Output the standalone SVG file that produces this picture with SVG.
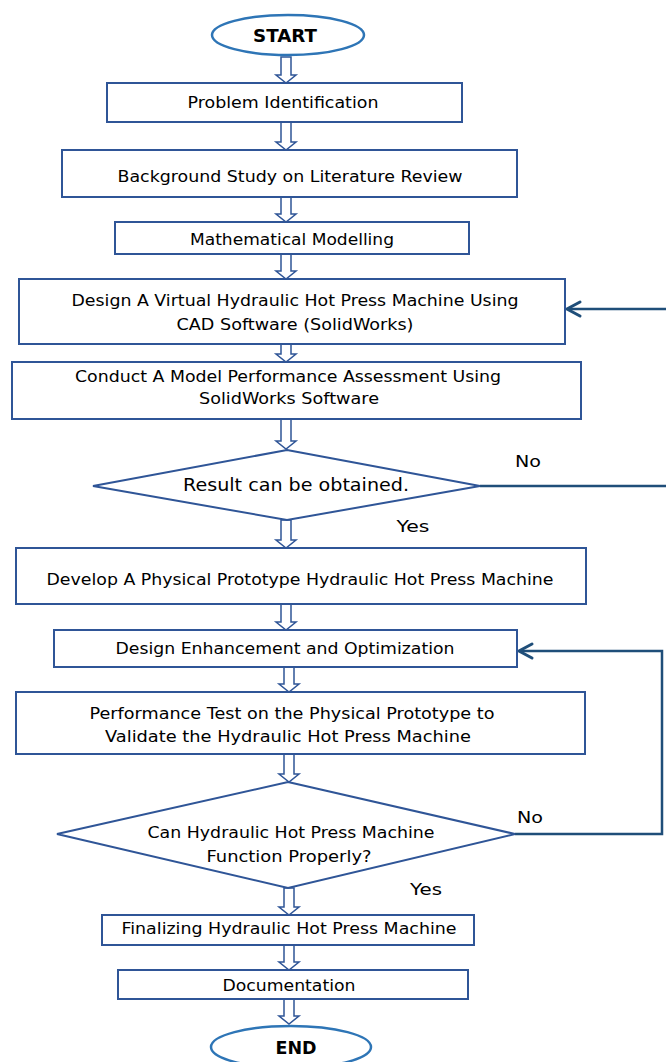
<svg xmlns="http://www.w3.org/2000/svg" width="666" height="1062" viewBox="0 0 666 1062">
<style>
.box{fill:#fff;stroke:#2F5597;stroke-width:2}
.oval{fill:#fff;stroke:#2E75B6;stroke-width:2.5}
.t{font-family:"DejaVu Sans",Verdana,sans-serif;font-size:15.5px;fill:#000;text-anchor:middle}
.tb{font-family:"DejaVu Sans",Verdana,sans-serif;font-size:17px;font-weight:bold;fill:#000;text-anchor:middle}
.blk{fill:#fff;stroke:#2F5597;stroke-width:1.5}
.line{fill:none;stroke:#1F4E79;stroke-width:2.5}
.head{fill:none;stroke:#1F4E79;stroke-width:3;stroke-linecap:round;stroke-linejoin:miter}
</style>
<g id="connectors">
<path class="blk" d="M281,57 V75 H276 L286,83 L296,75 H291 V57 Z"/>
<path class="blk" d="M281,122 V142 H276 L286,150 L296,142 H291 V122 Z"/>
<path class="blk" d="M281,197 V214 H276 L286,222 L296,214 H291 V197 Z"/>
<path class="blk" d="M281,254 V271 H276 L286,279 L296,271 H291 V254 Z"/>
<path class="blk" d="M281,344 V354 H276 L286,362 L296,354 H291 V344 Z"/>
<path class="blk" d="M281,419 V441 H276 L286,449 L296,441 H291 V419 Z"/>
<path class="blk" d="M281,520 V540 H276 L286,548 L296,540 H291 V520 Z"/>
<path class="blk" d="M281,604 V622 H276 L286,630 L296,622 H291 V604 Z"/>
<path class="blk" d="M284,667 V684 H279 L289,692 L299,684 H294 V667 Z"/>
<path class="blk" d="M284,754 V774 H279 L289,782 L299,774 H294 V754 Z"/>
<path class="blk" d="M284,888 V907 H279 L289,915 L299,907 H294 V888 Z"/>
<path class="blk" d="M284,945 V962 H279 L289,970 L299,962 H294 V945 Z"/>
<path class="blk" d="M284,999 V1016 H279 L289,1024 L299,1016 H294 V999 Z"/>
<path class="line" d="M666,309 H568"/>
<path class="head" d="M580,302 L567,309 L580,316"/>
<path class="line" d="M480,486 H666"/>
<path class="line" d="M515,834 H662 V651 H520"/>
<path class="head" d="M532,644 L519,651 L532,658"/>
</g>
<g id="start"><ellipse class="oval" cx="288" cy="35" rx="76" ry="20"/><text class="tb" x="285" y="42" textLength="64" lengthAdjust="spacingAndGlyphs">START</text></g>
<g id="n1"><rect class="box" x="107" y="83" width="355" height="39"/><text class="t" x="283" y="108" textLength="191" lengthAdjust="spacingAndGlyphs">Problem Identification</text></g>
<g id="n2"><rect class="box" x="62" y="150" width="455" height="47"/><text class="t" x="290" y="182" textLength="345" lengthAdjust="spacingAndGlyphs">Background Study on Literature Review</text></g>
<g id="n3"><rect class="box" x="115" y="222" width="354" height="32"/><text class="t" x="292" y="245" textLength="204" lengthAdjust="spacingAndGlyphs">Mathematical Modelling</text></g>
<g id="n4"><rect class="box" x="19" y="279" width="546" height="65"/><text class="t" x="295" y="306" textLength="447" lengthAdjust="spacingAndGlyphs">Design A Virtual Hydraulic Hot Press Machine Using</text><text class="t" x="295" y="330" textLength="237" lengthAdjust="spacingAndGlyphs">CAD Software (SolidWorks)</text></g>
<g id="n5"><rect class="box" x="12" y="362" width="569" height="57"/><text class="t" x="288" y="382" textLength="426" lengthAdjust="spacingAndGlyphs">Conduct A Model Performance Assessment Using</text><text class="t" x="289" y="404" textLength="180" lengthAdjust="spacingAndGlyphs">SolidWorks Software</text></g>
<g id="d1"><polygon class="box" points="287,450 480,486 287,520 93,486"/><text class="t" x="296" y="491" style="font-size:18px" textLength="226" lengthAdjust="spacingAndGlyphs">Result can be obtained.</text></g>
<g id="lbl1"><text class="t" x="528" y="467" textLength="26" lengthAdjust="spacingAndGlyphs">No</text><text class="t" x="413" y="532" textLength="33" lengthAdjust="spacingAndGlyphs">Yes</text></g>
<g id="n6"><rect class="box" x="16" y="548" width="570" height="56"/><text class="t" x="300" y="585" textLength="507" lengthAdjust="spacingAndGlyphs">Develop A Physical Prototype Hydraulic Hot Press Machine</text></g>
<g id="n7"><rect class="box" x="54" y="630" width="463" height="37"/><text class="t" x="285" y="654" textLength="339" lengthAdjust="spacingAndGlyphs">Design Enhancement and Optimization</text></g>
<g id="n8"><rect class="box" x="16" y="692" width="569" height="62"/><text class="t" x="292" y="719" textLength="405" lengthAdjust="spacingAndGlyphs">Performance Test on the Physical Prototype to</text><text class="t" x="288" y="742" textLength="366" lengthAdjust="spacingAndGlyphs">Validate the Hydraulic Hot Press Machine</text></g>
<g id="d2"><polygon class="box" points="288,782 515,834 288,888 57,834"/><text class="t" x="291" y="838" textLength="287" lengthAdjust="spacingAndGlyphs">Can Hydraulic Hot Press Machine</text><text class="t" x="289" y="862" textLength="165" lengthAdjust="spacingAndGlyphs">Function Properly?</text></g>
<g id="lbl2"><text class="t" x="530" y="823" textLength="26" lengthAdjust="spacingAndGlyphs">No</text><text class="t" x="426" y="895" textLength="32" lengthAdjust="spacingAndGlyphs">Yes</text></g>
<g id="n9"><rect class="box" x="102" y="915" width="372" height="30"/><text class="t" x="289" y="934" textLength="335" lengthAdjust="spacingAndGlyphs">Finalizing Hydraulic Hot Press Machine</text></g>
<g id="n10"><rect class="box" x="118" y="970" width="350" height="29"/><text class="t" x="289" y="991" textLength="133" lengthAdjust="spacingAndGlyphs">Documentation</text></g>
<g id="end"><ellipse class="oval" cx="291" cy="1047" rx="80" ry="21"/><text class="tb" x="296" y="1054" textLength="41" lengthAdjust="spacingAndGlyphs">END</text></g>
</svg>
